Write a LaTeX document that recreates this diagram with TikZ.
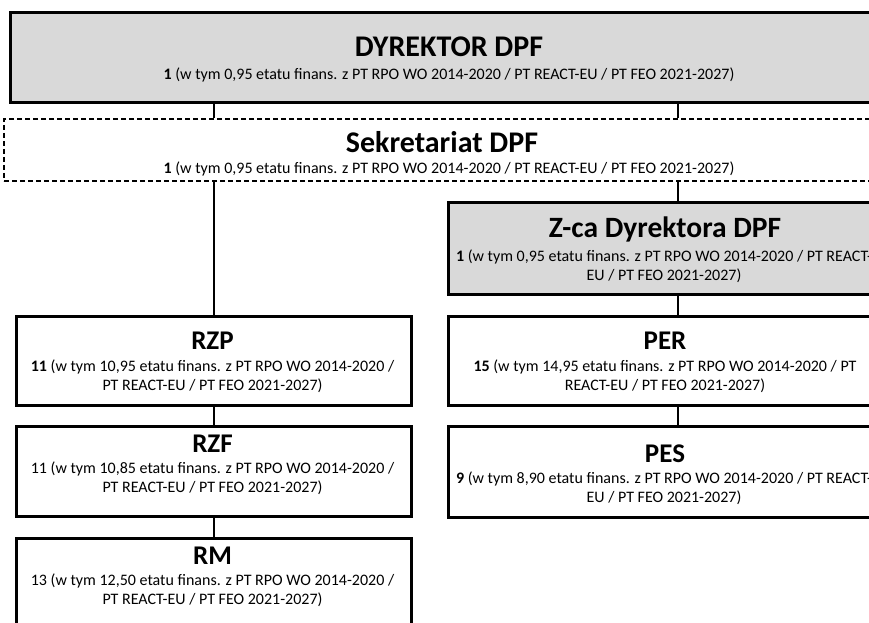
\documentclass[tikz,border=0pt]{standalone}
\usepackage{fontspec}
\setmainfont{Carlito}
\definecolor{boxgray}{HTML}{D9D9D9}
\begin{document}
\begin{tikzpicture}[x=1pt,y=-1pt,
  unit/.style={draw=black,line width=2.8pt,anchor=north west,inner sep=0pt},
  head/.style={unit,fill=boxgray},
  secr/.style={draw=black,line width=2pt,dash pattern=on 5pt off 3pt,anchor=north west,inner sep=0pt},
  title/.style={font=\fontsize{27}{31}\selectfont\bfseries,inner sep=0pt},
  bigtitle/.style={title,font=\fontsize{30}{34}\selectfont\bfseries},
  info/.style={font=\fontsize{16}{19}\selectfont,align=center,inner sep=0pt},
  link/.style={line width=2pt}]
\useasboundingbox (0,0) rectangle (869,623);
\clip (0,0) rectangle (869,623);
% boxes
\node[head,minimum width=880pt,minimum height=90pt] (dyr) at (9,11) {};
\node[secr,minimum width=890pt,minimum height=62pt] (sek) at (3,118) {};
\node[head,minimum width=436pt,minimum height=92pt] (zca) at (447,201) {};
\node[unit,minimum width=436pt,minimum height=89pt] (per) at (447,315) {};
\node[unit,minimum width=436pt,minimum height=91pt] (pes) at (447,425) {};
\node[unit,minimum width=395pt,minimum height=89pt] (rzp) at (15,315) {};
\node[unit,minimum width=395pt,minimum height=90pt] (rzf) at (15,425) {};
\node[unit,minimum width=395pt,minimum height=95pt] (rm) at (15,537) {};
% texts
\node[bigtitle] (dyrT) at (449,47) {DYREKTOR DPF};
\node[info] (dyrI) at (449,75) {\textbf{1} (w tym 0,95 etatu finans. z PT RPO WO 2014-2020 / PT REACT-EU / PT FEO 2021-2027)};
\node[bigtitle] (sekT) at (442,142) {Sekretariat DPF};
\node[info] (sekI) at (449,169) {\textbf{1} (w tym 0,95 etatu finans. z PT RPO WO 2014-2020 / PT REACT-EU / PT FEO 2021-2027)};
\node[title,font=\fontsize{29.5}{33}\selectfont\bfseries] (zcaT) at (665,229) {Z-ca Dyrektora DPF};
\node[info] (zcaI) at (664,266) {\textbf{1} (w tym 0,95 etatu finans. z PT RPO WO 2014-2020 / PT REACT-\\EU / PT FEO 2021-2027)};
\node[title] (perT) at (665,341) {PER};
\node[info] (perI) at (665,376.5) {\textbf{15} (w tym 14,95 etatu finans. z PT RPO WO 2014-2020 / PT\\REACT-EU / PT FEO 2021-2027)};
\node[title] (pesT) at (665,454) {PES};
\node[info] (pesI) at (664,488.5) {\textbf{9} (w tym 8,90 etatu finans. z PT RPO WO 2014-2020 / PT REACT-\\EU / PT FEO 2021-2027)};
\node[title] (rzpT) at (212.5,341) {RZP};
\node[info] (rzpI) at (212.5,376.5) {\textbf{11} (w tym 10,95 etatu finans. z PT RPO WO 2014-2020 /\\PT REACT-EU / PT FEO 2021-2027)};
\node[title] (rzfT) at (212.5,444) {RZF};
\node[info] (rzfI) at (212.5,478.5) {11 (w tym 10,85 etatu finans. z PT RPO WO 2014-2020 /\\PT REACT-EU / PT FEO 2021-2027)};
\node[title] (rmT) at (212.5,556) {RM};
\node[info] (rmI) at (212.5,590.5) {13 (w tym 12,50 etatu finans. z PT RPO WO 2014-2020 /\\PT REACT-EU / PT FEO 2021-2027)};
% connectors
\coordinate (axR) at (678,0);
\draw[link] (dyr.south -| rzp.north) -- (sek.north -| rzp.north);
\draw[link] (dyr.south -| axR) -- (sek.north -| axR);
\draw[link] (sek.south -| rzp.north) -- (rzp.north);
\draw[link] (sek.south -| axR) -- (zca.north -| axR);
\draw[link] (zca.south -| axR) -- (per.north -| axR);
\draw[link] (per.south -| axR) -- (pes.north -| axR);
\draw[link] (rzp.south) -- (rzf.north);
\draw[link] (rzf.south) -- (rm.north);
\end{tikzpicture}
\end{document}
